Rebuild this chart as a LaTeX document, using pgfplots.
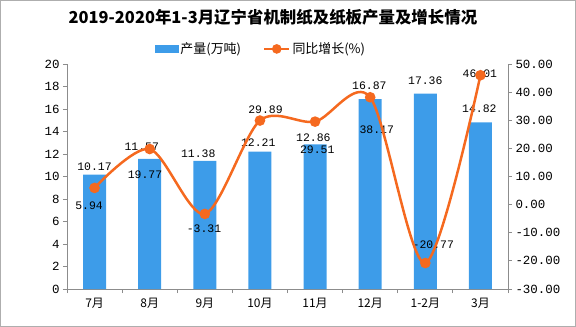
\documentclass[border=0pt]{standalone}
\usepackage{pgfplots}
\pgfplotsset{compat=1.18}
\usepackage{pgfplotstable}
\usepackage{fontspec}
\setmainfont{Liberation Serif}
\setmonofont{Liberation Mono}
\newfontfamily\cjk{Noto Sans CJK SC}
\definecolor{barblue}{HTML}{3D9CE9}
\definecolor{lineor}{HTML}{F5691F}
\definecolor{axgray}{HTML}{8C8C8C}

\pgfplotstableread{
x prod
0 10.17
1 11.57
2 11.38
3 12.21
4 12.86
5 16.87
6 17.36
7 14.82
}\prodtab

\pgfplotstableread{
x g
0 5.94
1 19.77
2 -3.31
3 29.89
4 29.51
5 38.17
6 -20.77
7 46.01
}\growtab

\pgfplotstableread{
x y lab
0 10.87 10.17
0.855 12.65 11.57
1.88 12.06 11.38
2.97 13.0 12.21
3.97 13.48 12.86
4.985 18.04 16.87
6.0 18.49 17.36
6.98 16.06 14.82
-0.10 7.38 5.94
0.915 10.13 19.77
1.985 5.33 -3.31
3.10 15.97 29.89
4.04 12.42 29.51
5.12 14.13 38.17
6.145 3.91 -20.77
6.99 19.17 46.01
}\labtab

\begin{document}
\begin{tikzpicture}
\draw[axgray!70, line width=0.8bp] (0.4bp,0.4bp) rectangle (575.6bp,326.6bp);
\begin{axis}[
  at={(67bp,38bp)}, anchor=south west, scale only axis,
  width=441bp, height=225bp,
  xmin=-0.5, xmax=7.5, ymin=0, ymax=20,
  ytick={0,2,...,20},
  axis x line*=bottom, axis y line*=left,
  axis line style={axgray, line width=0.8bp},
  xtick={0,...,7},
  xticklabels={7月,8月,9月,10月,11月,12月,1-2月,3月},
  minor xtick={-0.5,0.5,...,7.5},
  major x tick style={draw=none},
  tick align=outside, major tick length=4bp, minor tick length=4bp,
  tick style={axgray, line width=0.8bp},
  x tick label style={font=\cjk\fontsize{12}{12}\selectfont, yshift=-2bp},
  y tick label style={font=\ttfamily\fontsize{12.5}{12.5}\selectfont},
  /pgf/number format/assume math mode=true,
  title={\cjk\bfseries\fontsize{16.5}{16.5}\selectfont 2019-2020年1-3月辽宁省机制纸及纸板产量及增长情况},
  title style={at={(axis description cs:0.467,1.182)}, anchor=center},
  clip=false,
]
\addplot[ybar, bar width=23bp, bar shift=0pt, fill=barblue, draw=none] table[x=x,y=prod]{\prodtab};
\addplot[draw=none, mark=none, nodes near coords, point meta=explicit symbolic,
  nodes near coords style={font=\ttfamily\fontsize{11.5}{11.5}\selectfont, anchor=center, inner sep=0pt, text=black}]
  table[x=x,y=y,meta=lab]{\labtab};
\end{axis}
\begin{axis}[
  at={(67bp,38bp)}, anchor=south west, scale only axis,
  width=441bp, height=225bp,
  xmin=-0.5, xmax=7.5, ymin=-30, ymax=50,
  ytick={-30,-20,...,50},
  axis y line*=right, axis x line=none,
  axis line style={axgray, line width=0.8bp},
  tick align=outside, major tick length=4bp,
  tick style={axgray, line width=0.8bp},
  y tick label style={font=\ttfamily\fontsize{12.5}{12.5}\selectfont},
  yticklabel={\pgfmathprintnumber[fixed,fixed zerofill,precision=2]{\tick}},
  /pgf/number format/assume math mode=true,
  legend style={at={(axis description cs:0.44,1.067)}, anchor=center, draw=none, fill=none,
    font=\cjk\fontsize{13}{13}\selectfont, inner sep=0pt,
    /tikz/every even column/.append style={column sep=20bp}},
  legend columns=2,
  clip=false,
]
\addlegendimage{legend image code/.code={\fill[barblue] (0bp,-3.5bp) rectangle (23bp,3.5bp);}}
\addlegendentry{产量(万吨)}
\addplot[lineor, line width=2.5bp, smooth, mark=*, mark size=4bp, mark options={fill=lineor, draw=lineor},
  legend image code/.code={\draw[lineor, line width=2.5bp] (0bp,0bp) -- (25bp,0bp); \fill[lineor] (12.5bp,0bp) circle (3.5bp);}]
  table[x=x,y=g]{\growtab};
\addlegendentry{同比增长(\%)}
\end{axis}
\end{tikzpicture}
\end{document}
